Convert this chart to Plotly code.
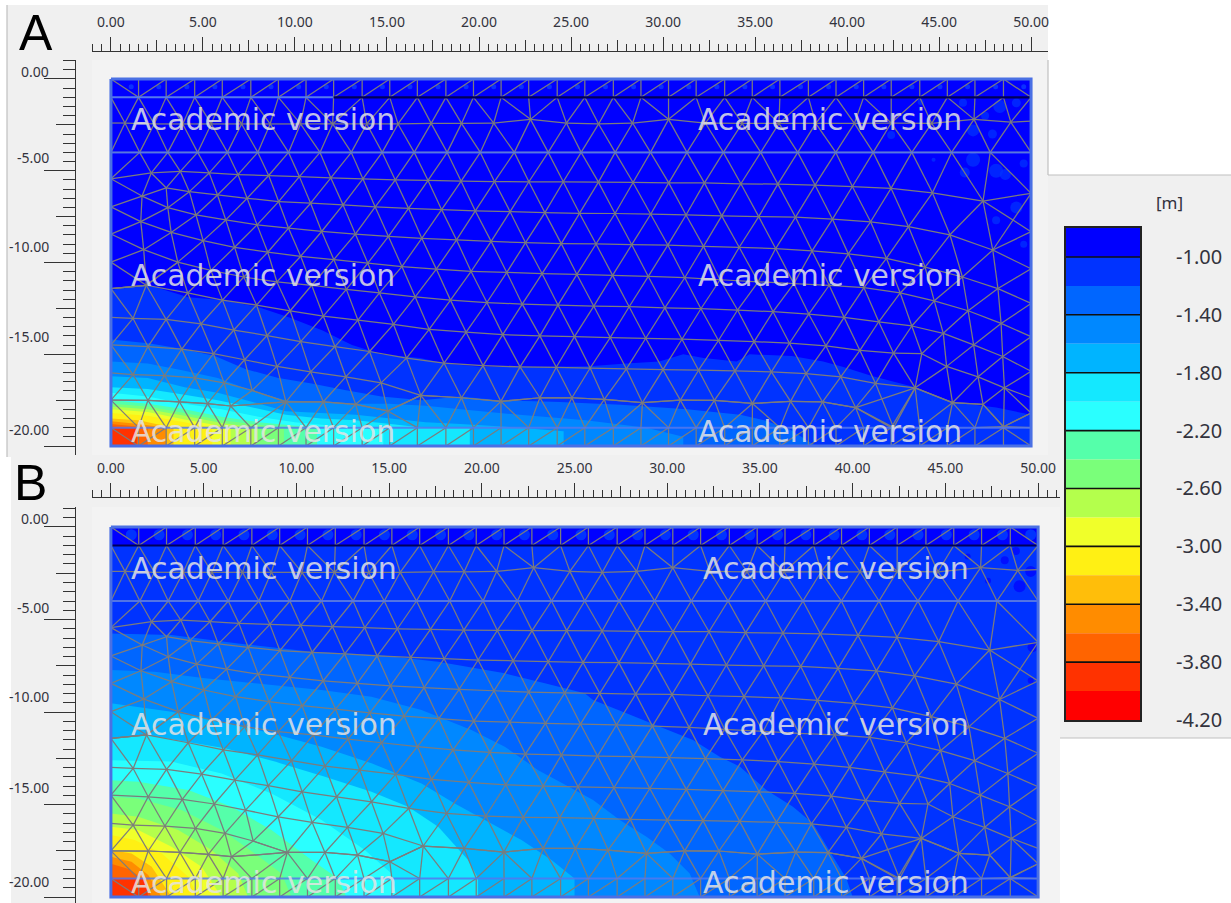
import plotly.graph_objects as go

# ---------- labels ----------
X_TICKS = [0, 5, 10, 15, 20, 25, 30, 35, 40, 45, 50]
X_LABELS = ["0.00", "5.00", "10.00", "15.00", "20.00", "25.00", "30.00", "35.00", "40.00", "45.00", "50.00"]
Y_TICKS = [0, -5, -10, -15, -20]
Y_LABELS = ["0.00", "-5.00", "-10.00", "-15.00", "-20.00"]
LEGEND_LABELS = ["-1.00", "-1.40", "-1.80", "-2.20", "-2.60", "-3.00", "-3.40", "-3.80", "-4.20"]
LEGEND_COLORS = ["#0000ff", "#0033ff", "#0066ff", "#0088ff", "#00b4ff", "#14e8ff", "#2affff", "#55ffaa", "#7aff7a",
                 "#b4ff4c", "#f0ff2a", "#fff014", "#ffbe0a", "#ff8c00", "#ff6400", "#ff3200", "#ff0000"]
WATERMARK = "Academic version"

# ---------- finite element mesh (metres) ----------
COL_X = [0, 1.5, 3.0, 4.55, 6.05, 7.6, 9.1, 10.6, 12.1, 13.65, 15.15, 16.65, 18.2, 19.7, 21.2, 22.7, 24.25,
         25.75, 27.3, 28.8, 30.3, 31.8, 33.35, 34.85, 36.35, 37.9, 39.4, 40.9, 42.4, 43.95, 45.45, 46.95, 48.5, 50]
R2 = [(0, -2.4), (0.76, -2.4), (2.35, -2.45), (3.9, -2.45), (5.45, -2.45), (7.1, -2.45), (8.65, -2.45), (10.3, -2.45),
      (12.05, -2.45), (13.9, -2.45), (15.6, -2.45), (17.4, -2.42), (19.05, -2.42), (20.8, -2.4), (22.8, -2.2),
      (24.75, -2.4), (26.5, -2.45), (28.35, -2.4), (30.3, -2.2), (32.3, -2.4), (34.3, -2.42), (36.3, -2.42),
      (38.3, -2.42), (40.4, -2.42), (42.4, -2.4), (44.6, -2.42), (46.9, -2.2), (48.9, -2.35), (50, -2.3)]
R3 = [(0, -4), (1.56, -4), (3.09, -4), (4.71, -4), (6.33, -4), (7.98, -4), (9.65, -4), (11.36, -4), (13.06, -4),
      (14.74, -4), (16.48, -4), (18.27, -4), (20.07, -4), (21.92, -4), (23.76, -4), (25.55, -4), (27.4, -4),
      (29.32, -4), (31.3, -4), (33.28, -4), (35.31, -4), (37.32, -4), (39.39, -4), (41.42, -4), (43.52, -4),
      (45.68, -4), (47.78, -4), (50, -4)]
R4 = [(0, -5.44), (2.19, -5.12), (3.77, -5.03), (5.34, -5.12), (6.9, -5.21), (8.57, -5.26), (10.24, -5.32),
      (11.95, -5.39), (13.69, -5.44), (15.45, -5.5), (17.23, -5.53), (19.03, -5.57), (20.84, -5.59), (22.71, -5.6),
      (24.58, -5.6), (26.49, -5.62), (28.37, -5.64), (30.31, -5.66), (32.25, -5.66), (34.23, -5.71), (36.24, -5.73),
      (38.26, -5.78), (40.29, -5.86), (42.39, -5.96), (44.64, -6.2), (47.39, -6.65), (50, -6.23)]
R5 = [(0, -6.97), (1.69, -6.38), (3.0, -5.93), (4.26, -6.14), (5.79, -6.32), (7.4, -6.5), (9.11, -6.68), (10.85, -6.77),
      (12.61, -6.86), (14.36, -6.97), (16.17, -7.05), (17.97, -7.12), (19.8, -7.19), (21.69, -7.23), (23.58, -7.28),
      (25.46, -7.32), (27.39, -7.33), (29.33, -7.37), (31.25, -7.41), (33.19, -7.46), (35.2, -7.5), (37.2, -7.53),
      (39.21, -7.64), (41.28, -7.78), (43.34, -8.05), (45.59, -8.49), (47.92, -9.32), (50, -10.34)]
R6 = [(0, -8.45), (1.62, -7.77), (3.09, -7.01), (4.62, -7.41), (6.24, -7.68), (7.94, -7.95), (9.65, -8.13),
      (11.45, -8.31), (13.28, -8.45), (15.08, -8.58), (16.89, -8.68), (18.78, -8.77), (20.66, -8.85), (22.53, -8.92),
      (24.47, -8.97), (26.36, -8.99), (28.3, -9.03), (30.26, -9.05), (32.2, -9.12), (34.14, -9.17), (36.12, -9.24),
      (38.1, -9.37), (40.07, -9.53), (42.14, -9.77), (44.24, -10.25), (46.27, -10.79), (48.2, -11.42), (50, -12.23)]
R7 = [(0, -9.98), (1.78, -9.3), (3.27, -8.36), (5.01, -8.81), (6.72, -9.17), (8.52, -9.44), (10.31, -9.66),
      (12.11, -9.84), (13.96, -10.04), (15.81, -10.22), (17.68, -10.36), (19.57, -10.49), (21.51, -10.54),
      (23.43, -10.61), (25.32, -10.65), (27.26, -10.7), (29.2, -10.76), (31.18, -10.83), (33.1, -10.94),
      (35.17, -11.05), (37.11, -11.15), (39.03, -11.24), (40.92, -11.37), (42.89, -11.66), (44.74, -12.09),
      (46.58, -12.63), (48.37, -13.32), (50, -14.04)]
R8 = [(0, -11.42), (1.92, -11.24), (3.63, -9.98), (5.43, -10.43), (7.22, -10.79), (9.02, -11.06), (10.91, -11.24),
      (12.79, -11.46), (14.59, -11.66), (16.53, -11.87), (18.45, -12.05), (20.43, -12.18), (22.35, -12.27),
      (24.29, -12.32), (26.24, -12.38), (28.16, -12.41), (30.1, -12.47), (32.06, -12.52), (34.05, -12.59),
      (35.98, -12.68), (37.92, -12.81), (39.84, -12.99), (41.72, -13.23), (43.52, -13.46), (45.23, -13.86),
      (46.88, -14.49), (48.46, -15.12), (50, -15.93)]
R9 = [(0, -11.42), (1.92, -11.24), (4.17, -11.66), (6.06, -12.05), (7.91, -12.32), (9.74, -12.63), (11.54, -12.92),
      (13.42, -13.14), (15.35, -13.37), (17.29, -13.64), (19.3, -13.8), (21.29, -13.93), (23.31, -14.0),
      (25.19, -14.04), (27.13, -14.09), (29.06, -14.13), (31.03, -14.18), (33.01, -14.25), (34.95, -14.31),
      (36.87, -14.4), (38.85, -14.54), (40.7, -14.79), (42.53, -14.94), (44.06, -14.97), (45.41, -15.66),
      (47.12, -16.23), (48.55, -16.83), (50, -17.37)]
R10 = [(0, -12.99), (1.2, -13.05), (3.0, -13.1), (4.89, -13.35), (6.68, -13.68), (8.48, -13.98), (10.31, -14.31),
       (12.17, -14.58), (14.05, -14.85), (16.06, -15.21), (18.1, -15.48), (20.22, -15.62), (22.23, -15.69),
       (24.2, -15.71), (26.04, -15.75), (28.01, -15.8), (30.0, -15.84), (31.93, -15.87), (33.91, -15.91),
       (35.89, -15.96), (37.77, -16.05), (39.66, -16.23), (41.55, -16.59), (43.7, -16.83)]
R10_TAIL = [(45.73, -17.64), (47.39, -17.73), (48.5, -18.95), (50, -18.2)]
R11 = [(0, -14.49), (2.01, -14.58), (3.85, -14.72), (5.57, -14.97), (7.26, -15.3), (9.02, -15.66), (10.85, -15.96),
       (12.76, -16.23), (14.68, -16.56), (16.84, -17.24), (19.05, -17.37), (21.19, -17.57), (23.31, -17.37),
       (25.05, -17.37), (26.81, -17.46), (28.88, -17.64), (30.94, -17.5), (32.79, -17.51), (34.86, -17.68),
       (36.93, -17.57), (38.67, -17.6), (40.47, -17.91), (42.53, -19.0)]
R12 = [(0, -16.02), (1.2, -16.11), (2.91, -16.16), (4.56, -16.29), (6.15, -16.56), (7.67, -16.97), (9.51, -17.59),
       (11.54, -17.59), (13.3, -17.73), (15.04, -18.09), (16.84, -17.24)]
R13 = [(0, -17.5), (2.01, -17.51), (3.72, -17.59), (5.25, -17.69), (6.5, -17.82), (9.51, -17.59)]
EXTRA_EDGES = [((47.39, -6.65), (50, -8.32)), ((47.92, -9.32), (50, -8.32))]

# ---------- water-table contours, model A: one outline per legend band ----------
A_B1 = [(0, -11.5), (1.96, -11.2), (4.2, -11.9), (6.0, -12.05), (7.9, -12.4), (9.7, -13), (11.5, -13.7), (13.1, -14.5),
        (14.7, -15), (16.8, -15.2), (18.15, -15.5), (20.2, -15.7), (22.2, -15.7), (26, -15.65), (28, -15.5),
        (29.8, -15.4), (31.1, -15), (32.2, -15.2), (34, -15.4), (34.7, -15), (37, -15.1), (38.7, -15.4), (39.8, -15.7),
        (41.4, -16.2), (43.7, -16.8), (45.7, -17.6), (48.1, -17.9), (50, -18.3), (50, -20)]
A_B2 = [(0, -14.2), (2.03, -14.4), (3.84, -14.7), (5.65, -15.1), (7.3, -15.8), (9.1, -16.3), (10.9, -16.6), (12.7, -16.95),
        (14.7, -17.3), (16.9, -17.5), (18.97, -17.3), (21.1, -17.5), (24.4, -17.6), (27.7, -17.75), (31.3, -18),
        (34.2, -18.3), (35.5, -18.6), (36.9, -19.1), (38.3, -20)]
A_B3 = [(0, -15.4), (2, -15.5), (4, -15.9), (5.8, -16.3), (7.7, -17), (9.5, -17.5), (11.4, -17.6), (13.3, -17.7),
        (15.1, -17.7), (17.1, -17.8), (19, -18), (22.2, -18.3), (25.8, -18.6), (29.1, -19), (31.1, -19.5), (31.1, -20)]
A_B4 = [(0, -16.2), (2, -16.3), (4, -16.8), (5.8, -17.1), (7.7, -17.6), (9.5, -18.1), (11.4, -18.2), (13.3, -18.3),
        (15.2, -18.5), (17.1, -18.7), (19, -18.8), (22.2, -19), (24.6, -19.2), (24.6, -20)]
A_B5 = [(0, -16.8), (2, -16.9), (4, -17.2), (5.8, -17.5), (7.7, -17.9), (9.5, -18.3), (11.4, -18.5), (13.3, -18.6),
        (15.2, -18.8), (17, -19), (19.5, -19), (19.5, -20)]
A_B6 = [(0, -17.1), (2, -17.3), (4, -17.7), (6, -18), (8, -18.4), (10, -18.7), (12, -18.9), (14.8, -19), (14.8, -20)]
A_B7 = [(0, -17.5), (2, -17.7), (4, -18), (6, -18.4), (8, -18.7), (11.2, -19), (11.2, -20)]
A_B8 = [(0, -17.7), (2, -17.85), (4, -18.2), (6, -18.6), (9.4, -19), (9.4, -20)]
A_B9 = [(0, -17.85), (2, -18), (4, -18.35), (6, -18.75), (7.9, -19), (7.9, -20)]
A_B10 = [(0, -18), (2, -18.15), (4, -18.55), (6.5, -19), (6.5, -20)]
A_B11 = [(0, -18.2), (2, -18.35), (4, -18.7), (5.5, -19), (5.5, -20)]
A_B12 = [(0, -18.5), (1.5, -18.6), (3.4, -19), (3.4, -20)]
A_B13 = [(0, -18.65), (1.5, -18.8), (3, -19), (3, -20)]
A_B14 = [(0, -18.8), (1, -18.9), (2, -19), (2, -20)]
A_B15 = [(0, -18.95), (1.4, -19), (1.4, -20)]

# ---------- water-table contours, model B ----------
B_B1 = [(0, -1), (50, -1), (50, -20)]
B_B2 = [(0, -5.75), (3.27, -5.84), (6.86, -6.29), (10.82, -6.74), (14.41, -6.92), (17.65, -7.28), (21.24, -7.91),
        (23.4, -8.45), (25.55, -8.99), (26, -9.35), (27.8, -10.07), (29.6, -10.79), (31.39, -11.51), (32.83, -12.41),
        (33.91, -12.95), (35.35, -14.22), (36.78, -15.12), (37.86, -16.02), (38.94, -17.82), (39.66, -19), (40, -20)]
B_B3 = [(0, -7.73), (2.37, -7.82), (5.07, -8.18), (7.76, -8.45), (11.36, -8.81), (14.05, -9.17), (16.75, -9.89),
        (19.44, -10.97), (21.24, -11.87), (23.04, -13.14), (24.2, -13.77), (26, -14.76), (27.44, -15.84), (28.88, -16.74),
        (30.13, -17.64), (31.21, -18.72), (31.75, -20)]
B_B4 = [(0, -9.53), (3.27, -9.98), (5.97, -10.52), (8.66, -11.15), (11.36, -11.87), (14.05, -12.77), (16.75, -13.86),
        (18.54, -14.94), (20.34, -15.93), (22.14, -16.92), (23.76, -18), (25, -19), (25, -20)]
B_B5 = [(0, -11.42), (1.92, -11.24), (6.15, -11.96), (8.84, -12.68), (11.54, -13.5), (14.05, -14.31), (16.03, -15.12),
        (17.65, -16.2), (19.26, -18), (19.8, -19), (19.8, -20)]
B_B6 = [(0, -12.6), (3.27, -12.68), (5.97, -13.32), (8.66, -14.4), (11.36, -15.84), (13.69, -17.46), (15.13, -18.72),
        (15.4, -20)]
B_B7 = [(0, -13.68), (1.47, -13.77), (4.17, -14.22), (6.5, -15.12), (8.66, -16.38), (10.82, -18), (12.25, -19), (12.7, -20)]
B_B8 = [(0, -14.58), (1.47, -14.67), (3.81, -15.3), (5.97, -16.38), (7.76, -17.64), (9.2, -18.72), (9.74, -20)]
B_B9 = [(0, -15.48), (1.47, -15.66), (3.63, -16.38), (5.43, -17.46), (6.86, -18.72), (7.4, -20)]
B_B10 = [(0, -16.2), (1.47, -16.38), (3.27, -17.28), (4.89, -18.36), (5.97, -20)]
B_B11 = [(0, -16.65), (1.29, -16.92), (2.74, -17.64), (4.17, -18.9), (4.71, -20)]
B_B12 = [(0, -17.46), (1.11, -17.64), (2.2, -18.36), (3.27, -20)]
B_B13 = [(0, -17.82), (1.11, -18.09), (2.01, -18.81), (2.73, -20)]
B_B14 = [(0, -18.2), (1, -18.5), (1.7, -19), (2.2, -20)]
B_B15 = [(0, -18.95), (1.9, -19), (2.0, -20)]

# small numerical patches near the top right corner
A_PATCH_X = [46.85, 48.1, 46.4, 48.3, 46.85, 47.9, 49.2, 48.1, 42.4, 46.3, 44.0, 49.2, 49.6, 48.6, 44.7, 47.5, 49.6]
A_PATCH_Y = [-4.4, -5.0, -5.1, -1.5, -2.8, -3.0, -7.0, -7.7, -3.05, -1.3, -1.25, -1.3, -9.0, -5.2, -4.4, -2.0, -4.6]
A_PATCH_S = [14, 14, 10, 13, 12, 9, 12, 8, 8, 8, 6, 9, 7, 11, 4, 8, 8]
B_PATCH_X = [49.0, 48.2, 49.6, 49.7, 47.3, 46.2, 48.8, 49.6]
B_PATCH_Y = [-3.2, -1.8, -2.4, -6.5, -2.9, -1.6, -1.3, -8.3]
B_PATCH_S = [12, 8, 11, 10, 6, 6, 8, 6]

A_BANDS = [A_B1, A_B2, A_B3, A_B4, A_B5, A_B6, A_B7, A_B8, A_B9, A_B10, A_B11, A_B12, A_B13, A_B14, A_B15]
B_BANDS = [B_B1, B_B2, B_B3, B_B4, B_B5, B_B6, B_B7, B_B8, B_B9, B_B10, B_B11, B_B12, B_B13, B_B14, B_B15]

# ---------- layout constants ----------
W, H = 1231, 903
fx = lambda p: p / W
fy = lambda p: 1 - p / H
GRID = "#7c7c7c"
BORDER = "#4a70e4"
INK = "#33333d"
PANEL = "#f0f0f0"


def strip(a, b):
    out = []
    i = j = 0
    while True:
        out.append((a[i], b[j]))
        if i == len(a) - 1 and j == len(b) - 1:
            break
        if i == len(a) - 1:
            j += 1
        elif j == len(b) - 1:
            i += 1
        else:
            d1 = (a[i + 1][0] - b[j][0]) ** 2 + (a[i + 1][1] - b[j][1]) ** 2
            d2 = (a[i][0] - b[j + 1][0]) ** 2 + (a[i][1] - b[j + 1][1]) ** 2
            if d1 <= d2:
                i += 1
            else:
                j += 1
    return out


def polyline(r):
    return [(r[k], r[k + 1]) for k in range(len(r) - 1)]


R0 = [(x, 0) for x in COL_X]
R1 = [(x, -1) for x in COL_X]
R19 = [(x, -19) for x in COL_X]
R20 = [(x, -20) for x in COL_X]
R10_FULL = R10 + R10_TAIL
LOW = R13 + R12[7:10] + R11[9:22] + [R10[-1]] + R10_TAIL

segs = list(EXTRA_EDGES)
for r in [R2, R3, R4, R5, R6, R7, R8, R9, R10_FULL, R11, R12, R13, LOW]:
    segs += polyline(r)
n = len(COL_X)
for k in range(1, n - 1):
    segs.append((R0[k], R1[k]))
    segs.append((R19[k], R20[k]))
    if k > 1:
        segs.append((R1[k - 1], R0[k]))
        segs.append((R20[k - 1], R19[k]))
segs += [(R0[0], R1[1]), (R0[n - 2], R1[n - 1]), (R19[0], R20[1]), (R19[n - 2], R20[n - 1])]
for a, b in [(R1, R2), (R2, R3), (R3, R4), (R4, R5), (R5, R6), (R6, R7), (R7, R8), (R8, R9), (R9, R10_FULL),
             (R10, R11), (R11[:10], R12), (R12[:7], R13), (LOW, R19)]:
    segs += strip(a, b)
mesh_x, mesh_y = [], []
for p, q in segs:
    mesh_x += [p[0], q[0], None]
    mesh_y += [p[1], q[1], None]

fig = go.Figure()


def add_panel(xa, ya, bands, base_fill, patch, patch_color, strip_color, black_from):
    ax = dict(xaxis=xa, yaxis=ya)
    fig.add_trace(go.Scatter(x=[0, 50, 50, 0], y=[0, 0, -20, -20], fill="toself", mode="none",
                             fillcolor=base_fill, hoverinfo="skip", **ax))
    for idx, band in enumerate(bands, start=1):
        xs = [p[0] for p in band] + [0]
        ys = [p[1] for p in band] + [-20]
        fig.add_trace(go.Scatter(x=xs, y=ys, fill="toself", mode="none", fillcolor=LEGEND_COLORS[idx],
                                 hoverinfo="skip", **ax))
    fig.add_trace(go.Scatter(x=patch[0], y=patch[1], mode="markers",
                             marker=dict(size=patch[2], color=patch_color, line_width=0), hoverinfo="skip", **ax))
    mids = [(COL_X[k] + COL_X[k + 1]) / 2 + 0.35 for k in range(len(COL_X) - 1)]
    fig.add_trace(go.Scatter(x=mids, y=[-0.42] * len(mids), mode="markers",
                             marker=dict(size=strip_color[1], color=strip_color[0], line_width=0),
                             hoverinfo="skip", **ax))
    fig.add_trace(go.Scatter(x=mesh_x, y=mesh_y, mode="lines", line=dict(color=GRID, width=1.25),
                             hoverinfo="skip", **ax))
    for yy in (-4, -19):
        fig.add_trace(go.Scatter(x=[0, 50], y=[yy, yy], mode="lines", line=dict(color="#5478ee", width=2),
                                 opacity=0.85, hoverinfo="skip", **ax))
    if black_from > 0:
        fig.add_trace(go.Scatter(x=[0, black_from], y=[-1, -1], mode="lines", line=dict(color="#5478ee", width=2),
                                 hoverinfo="skip", **ax))
    fig.add_trace(go.Scatter(x=[black_from, 50], y=[-1, -1], mode="lines", line=dict(color="#00005a", width=2.2),
                             hoverinfo="skip", **ax))
    fig.add_trace(go.Scatter(x=[0, 50, 50, 0, 0], y=[0, 0, -20, -20, 0], mode="lines",
                             line=dict(color=BORDER, width=3), hoverinfo="skip", **ax))


add_panel("x", "y", A_BANDS, "#0000ff", (A_PATCH_X, A_PATCH_Y, A_PATCH_S), "#0033ff", ("#0a30ff", 5), 12.1)
add_panel("x2", "y2", B_BANDS, "#0000ff", (B_PATCH_X, B_PATCH_Y, B_PATCH_S), "#0000ff", ("#0033ff", 11), 0)

# legend column
fig.add_trace(go.Bar(x=[0] * 17, y=[1] * 17, base=list(range(17)), width=1, marker=dict(color=LEGEND_COLORS, line_width=0),
                     xaxis="x5", yaxis="y5", hoverinfo="skip"))
sep_x, sep_y = [], []
for v in range(1, 17, 2):
    sep_x += [-0.5, 0.5, None]
    sep_y += [v, v, None]
fig.add_trace(go.Scatter(x=sep_x, y=sep_y, mode="lines", line=dict(color="#101010", width=1.6),
                         xaxis="x5", yaxis="y5", hoverinfo="skip"))
# carriers for the medium-tick axes
for xa, ya in (("x3", "y3"), ("x4", "y4")):
    fig.add_trace(go.Scatter(x=[0], y=[0], mode="none", xaxis=xa, yaxis=ya, hoverinfo="skip"))


def half_steps(a, b):
    return [a + 0.5 * k for k in range(int(round((b - a) * 2)) + 1)]


def x_axis(dom, rng, pos, major):
    d = dict(domain=[fx(dom[0]), fx(dom[1])], range=rng, anchor="free", position=fy(pos), side="top", automargin=False,
             showgrid=False, zeroline=False, showline=True, linecolor="#333333", linewidth=1.4, fixedrange=True)
    if major:
        d.update(tickmode="array", tickvals=X_TICKS, ticktext=X_LABELS, ticks="outside", ticklen=14, tickwidth=1.4,
                 tickcolor="#333333", tickfont=dict(family="Noto Sans", size=14, color=INK), ticklabelstandoff=4,
                 minor=dict(tickmode="array", tickvals=half_steps(-1, int(rng[1])), ticks="outside", ticklen=7,
                            tickwidth=1.2, tickcolor="#333333"))
    else:
        d.update(tickmode="array", tickvals=[2.5 + 5 * k for k in range(10)], ticktext=[""] * 10, ticks="outside",
                 ticklen=11, tickwidth=1.3, tickcolor="#333333", showticklabels=False, showline=False)
    return d


def y_axis(dom, rng, pos, major):
    d = dict(domain=[fy(dom[1]), fy(dom[0])], range=rng, anchor="free", position=fx(pos), side="left", automargin=False,
             showgrid=False, zeroline=False, showline=True, linecolor="#333333", linewidth=1.4, fixedrange=True,
             showticklabels=False)
    if major:
        d.update(tickmode="array", tickvals=Y_TICKS, ticks="outside", ticklen=31, tickwidth=1.4, tickcolor="#333333",
                 minor=dict(tickmode="array", tickvals=half_steps(-20, 1), ticks="outside", ticklen=12,
                            tickwidth=1.3, tickcolor="#333333"))
    else:
        d.update(tickmode="array", tickvals=[-2.5 - 5 * k for k in range(4)], ticks="outside", ticklen=19,
                 tickwidth=1.3, tickcolor="#333333", showline=False)
    return d


A_XDOM, A_XR, A_YDOM, A_YR = (92, 1048), [-1.03, 50.92], (60, 455), [-20.49, 1.035]
B_XDOM, B_XR, B_YDOM, B_YR = (92, 1060), [-1.02, 51.18], (507, 903), [-20.32, 1.08]

annotations = []
for lab, py in zip(Y_LABELS, [71, 158, 247, 337, 429]):
    annotations.append(dict(text=lab, x=fx(51), y=fy(py)))
for lab, py in zip(Y_LABELS, [518, 607, 696, 787, 881]):
    annotations.append(dict(text=lab, x=fx(51), y=fy(py)))
annotations = [dict(a, xref="paper", yref="paper", xanchor="right", yanchor="middle", showarrow=False,
                    font=dict(family="Noto Sans", size=14, color=INK)) for a in annotations]
annotations.append(dict(text="[m]", x=fx(1169), y=fy(203), xref="paper", yref="paper", xanchor="center",
                        yanchor="middle", showarrow=False, font=dict(family="Noto Sans", size=17, color=INK)))
annotations.append(dict(text="A", x=fx(36), y=fy(33), xref="paper", yref="paper", xanchor="center", yanchor="middle",
                        showarrow=False, font=dict(family="Liberation Sans", size=50, color="#000000")))
annotations.append(dict(text="B", x=fx(30), y=fy(483), xref="paper", yref="paper", xanchor="center", yanchor="middle",
                        showarrow=False, font=dict(family="Liberation Sans", size=50, color="#000000")))
for px, py, size in [(129, 120, 29.8), (696, 120, 29.8), (129, 275, 29.8), (696, 275, 29.8), (129, 431, 29.8),
                     (696, 431, 29.8), (129, 568, 30), (701, 568, 30), (129, 724, 30), (701, 724, 30),
                     (129, 882, 30), (701, 882, 30)]:
    annotations.append(dict(text=WATERMARK, x=fx(px), y=fy(py), xref="paper", yref="paper", xanchor="left",
                            yanchor="middle", showarrow=False,
                            font=dict(family="DejaVu Sans", size=size, color="rgba(228,228,228,0.85)")))

shapes = []
for x0, y0, x1, y1, col in [(7, 5, 1048, 457, PANEL), (11, 457, 1060, 903, PANEL), (1048, 175, 1231, 738, PANEL),
                            (92, 60, 1048, 455, "#f3f3f3"), (92, 507, 1060, 903, "#f3f3f3")]:
    shapes.append(dict(type="rect", xref="paper", yref="paper", x0=fx(x0), x1=fx(x1), y0=fy(y1), y1=fy(y0),
                       fillcolor=col, line_width=0, layer="below"))
for x0, y0, x1, y1 in [(7, 5, 7, 457), (1048, 60, 1048, 175), (1048, 175, 1231, 175), (1060, 738, 1231, 738)]:
    shapes.append(dict(type="line", xref="paper", yref="paper", x0=fx(x0), x1=fx(x1), y0=fy(y0), y1=fy(y1),
                       line=dict(color="#c0c0c0", width=1.2), layer="below"))

fig.update_layout(
    template="none",
    width=W, height=H, autosize=False, margin=dict(l=0, r=0, t=0, b=0, pad=0, autoexpand=False),
    paper_bgcolor="#ffffff", plot_bgcolor="rgba(0,0,0,0)", showlegend=False, barmode="overlay",
    xaxis=x_axis(A_XDOM, A_XR, 51, True), yaxis=y_axis(A_YDOM, A_YR, 75, True),
    xaxis2=x_axis(B_XDOM, B_XR, 497, True), yaxis2=y_axis(B_YDOM, B_YR, 75, True),
    xaxis3=x_axis(A_XDOM, A_XR, 51, False), yaxis3=y_axis(A_YDOM, A_YR, 75, False),
    xaxis4=x_axis(B_XDOM, B_XR, 497, False), yaxis4=y_axis(B_YDOM, B_YR, 75, False),
    xaxis5=dict(domain=[fx(1066), fx(1140)], range=[-0.5, 0.5], anchor="y5", showticklabels=False, ticks="",
                automargin=False, showgrid=False, zeroline=False, showline=True, mirror=True, linecolor="#222222",
                linewidth=2, fixedrange=True),
    yaxis5=dict(domain=[fy(720), fy(228)], range=[17, 0], anchor="x5", side="right", tickmode="array",
                tickvals=[1, 3, 5, 7, 9, 11, 13, 15, 17], ticktext=LEGEND_LABELS, ticks="", showgrid=False,
                automargin=False, zeroline=False, showline=True, mirror=True, linecolor="#222222", linewidth=2,
                fixedrange=True, ticklabelstandoff=30, tickfont=dict(family="Noto Sans", size=20, color=INK)),
    annotations=annotations, shapes=shapes,
)

fig.write_html("out.html", config={"displayModeBar": False},
               post_script="document.body.style.margin='0';document.body.style.overflow='hidden';")
